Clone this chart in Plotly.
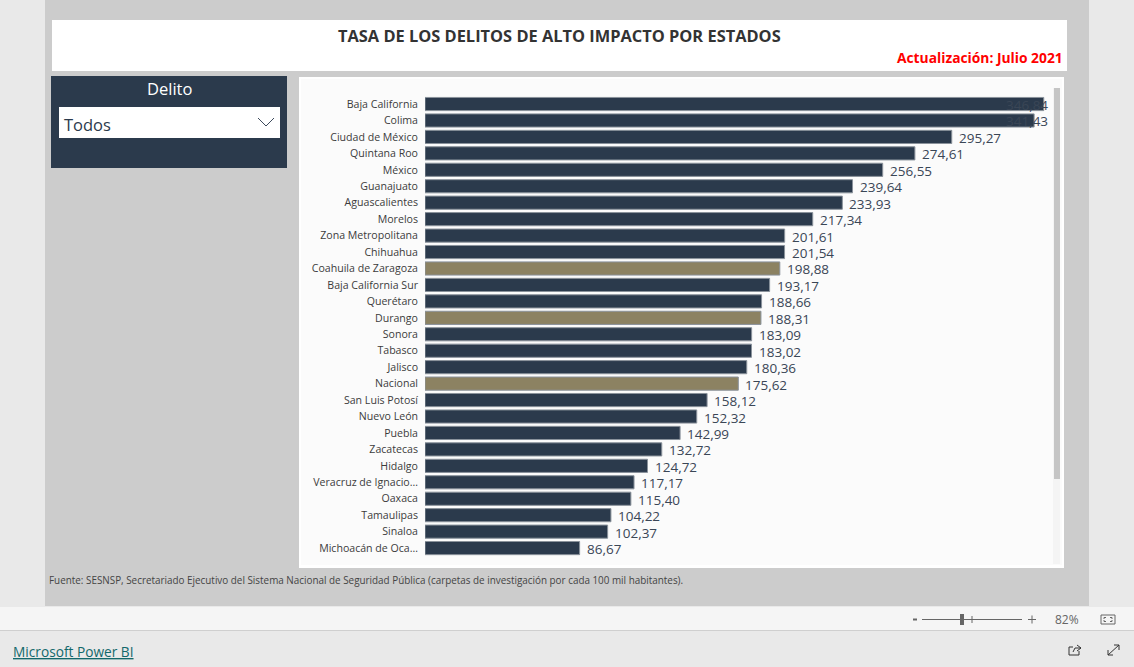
import plotly.graph_objects as go

W, H = 1134, 667

estados = ["Baja California", "Colima", "Ciudad de México", "Quintana Roo", "México", "Guanajuato",
           "Aguascalientes", "Morelos", "Zona Metropolitana", "Chihuahua", "Coahuila de Zaragoza",
           "Baja California Sur", "Querétaro", "Durango", "Sonora", "Tabasco", "Jalisco", "Nacional",
           "San Luis Potosí", "Nuevo León", "Puebla", "Zacatecas", "Hidalgo", "Veracruz de Ignacio…",
           "Oaxaca", "Tamaulipas", "Sinaloa", "Michoacán de Oca…"]
tasas = [346.84, 341.43, 295.27, 274.61, 256.55, 239.64, 233.93, 217.34, 201.61, 201.54, 198.88,
         193.17, 188.66, 188.31, 183.09, 183.02, 180.36, 175.62, 158.12, 152.32, 142.99, 132.72,
         124.72, 117.17, 115.40, 104.22, 102.37, 86.67]
resaltados = ["Coahuila de Zaragoza", "Durango", "Nacional"]
titulo = "TASA DE LOS DELITOS DE ALTO IMPACTO POR ESTADOS"
actualizacion = "Actualización: Julio 2021"
fuente = ("Fuente: SESNSP, Secretariado Ejecutivo del Sistema Nacional de Seguridad Pública "
          "(carpetas de investigación por cada 100 mil habitantes).")

NAVY = "#2b3a4c"
GOLD = "#8c8262"
FONT = "Open Sans"


def px(x):
    return x / W


def py(y):
    return 1 - y / H


def rect(x0, y0, x1, y1, color):
    return dict(type="rect", xref="paper", yref="paper", x0=px(x0), x1=px(x1), y0=py(y0), y1=py(y1),
                fillcolor=color, line_width=0, layer="below")


def line(x0, y0, x1, y1, color="#555555", width=1):
    return dict(type="line", xref="paper", yref="paper", x0=px(x0), x1=px(x1), y0=py(y0), y1=py(y1),
                line=dict(color=color, width=width), layer="above")


def label(x, y, text, size, color, anchor="left", family=FONT):
    return dict(xref="paper", yref="paper", x=px(x), y=py(y), text=text, showarrow=False,
                xanchor=anchor, yanchor="middle", font=dict(size=size, color=color, family=family),
                borderpad=0, borderwidth=0)


shapes = [
    rect(0, 0, W, H, "#e9e9e9"),
    rect(45, 0, 1089, 606, "#cccccc"),
    rect(0, 607, W, 630, "#f5f5f5"),
    rect(0, 630, W, 631, "#cfcfcf"),
    rect(52, 20, 1067, 71, "#ffffff"),
    rect(51, 76, 287, 168, NAVY),
    rect(59, 107, 280, 138, "#ffffff"),
    rect(299, 77, 1064, 568, "#ffffff"),
    rect(301, 79, 1062, 565, "#fbfbfb"),
    rect(1053, 88, 1060, 564, "#f4f4f4"),
    rect(1054, 88, 1060, 479, "#c5c5c5"),
    # chevron
    line(258, 118, 266, 126, "#3d4a5c"),
    line(266, 126, 274, 118, "#3d4a5c"),
    # zoom slider
    line(922, 619.5, 1022, 619.5, "#666666"),
    rect(960, 614, 964, 625, "#666666"),
    line(972, 616, 972, 623, "#666666"),
    line(913, 619.5, 917, 619.5, "#666666", 2),
    line(1028, 619.5, 1036, 619.5, "#666666"),
    line(1032, 615.5, 1032, 623.5, "#666666"),
    # fit icon (rounded frame with inner corner brackets)
    dict(type="rect", xref="paper", yref="paper", x0=px(1101), x1=px(1115), y0=py(615), y1=py(624),
         line=dict(color="#666666", width=1), fillcolor="rgba(0,0,0,0)", layer="above"),
    line(1104, 617.5, 1106, 617.5, "#666666"),
    line(1104, 617.5, 1104, 619, "#666666"),
    line(1110, 617.5, 1112, 617.5, "#666666"),
    line(1112, 617.5, 1112, 619, "#666666"),
    line(1104, 621.5, 1106, 621.5, "#666666"),
    line(1104, 620, 1104, 621.5, "#666666"),
    line(1110, 621.5, 1112, 621.5, "#666666"),
    line(1112, 620, 1112, 621.5, "#666666"),
    # share icon
    line(1069, 647, 1069, 655, "#333333"),
    line(1069, 655, 1079, 655, "#333333"),
    line(1079, 655, 1079, 651, "#333333"),
    line(1069, 647, 1073, 647, "#333333"),
    line(1073, 652, 1075, 648, "#333333"),
    line(1075, 648, 1081, 648, "#333333"),
    line(1077, 645, 1081, 648, "#333333"),
    line(1081, 648, 1077, 651, "#333333"),
    # expand icon
    line(1108, 655, 1119, 645, "#333333"),
    line(1114, 645, 1119, 645, "#333333"),
    line(1119, 645, 1119, 650, "#333333"),
    line(1108, 650, 1108, 655, "#333333"),
    line(1108, 655, 1113, 655, "#333333"),
]

annotations = [
    label(559.5, 36, f"<b>{titulo}</b>", 16.4, "#333333", "center"),
    label(1063, 58, f"<b>{actualizacion}</b>", 13.8, "#ff0000", "right"),
    label(169.5, 88.5, "Delito", 16.5, "#ffffff", "center"),
    label(64, 125, "Todos", 16.5, NAVY),
    label(49, 580, fuente, 9.9, "#444444"),
    label(1079, 619, "82%", 12, "#666666", "right"),
    label(13, 651, "<u>Microsoft Power BI</u>", 13.7, "#12686b"),
]

# Value labels: most sit just past the bar end; the two longest are pinned against the panel edge
for estado, tasa in zip(estados, tasas):
    if tasa > 340:
        annotations.append(dict(xref="paper", yref="y", x=px(1050), y=estado,
                                text=f"{tasa:.2f}".replace(".", ","), showarrow=False,
                                xanchor="right", yanchor="middle", yshift=-1,
                                font=dict(size=13.5, color="#3a4656", family=FONT)))
    else:
        annotations.append(dict(xref="x", yref="y", x=tasa, y=estado,
                                text=f"{tasa:.2f}".replace(".", ","), showarrow=False,
                                xanchor="left", yanchor="middle", xshift=5, yshift=-1,
                                font=dict(size=13.5, color="#3a4656", family=FONT)))

colores = [GOLD if e in resaltados else NAVY for e in estados]

fig = go.Figure(go.Bar(
    x=tasas, y=estados, orientation="h", width=0.8,
    marker=dict(color=colores, line=dict(color="#8a929b", width=1)),
    hoverinfo="skip",
))

x_left, x_right = 425, 1050
unit = 1.784
fig.update_layout(
    width=W, height=H, margin=dict(l=0, r=0, t=0, b=0, pad=0),
    paper_bgcolor="#e9e9e9", plot_bgcolor="rgba(0,0,0,0)",
    showlegend=False, shapes=shapes, annotations=annotations,
    font=dict(family=FONT),
    xaxis=dict(domain=[px(x_left), px(x_right)], range=[0, (x_right - x_left) / unit], visible=False),
    yaxis=dict(domain=[py(556.3), py(95.8)], type="category", categoryorder="array",
               categoryarray=estados, range=[27.5, -0.5], showgrid=False, zeroline=False,
               showline=False, ticks="", ticklen=0, ticklabelstandoff=6,
               tickfont=dict(size=10.6, color="#3c3c3c", family=FONT)),
)

fig.write_html("out.html", config=dict(displayModeBar=False),
               post_script="document.body.style.margin='0';document.body.style.overflow='hidden';")
